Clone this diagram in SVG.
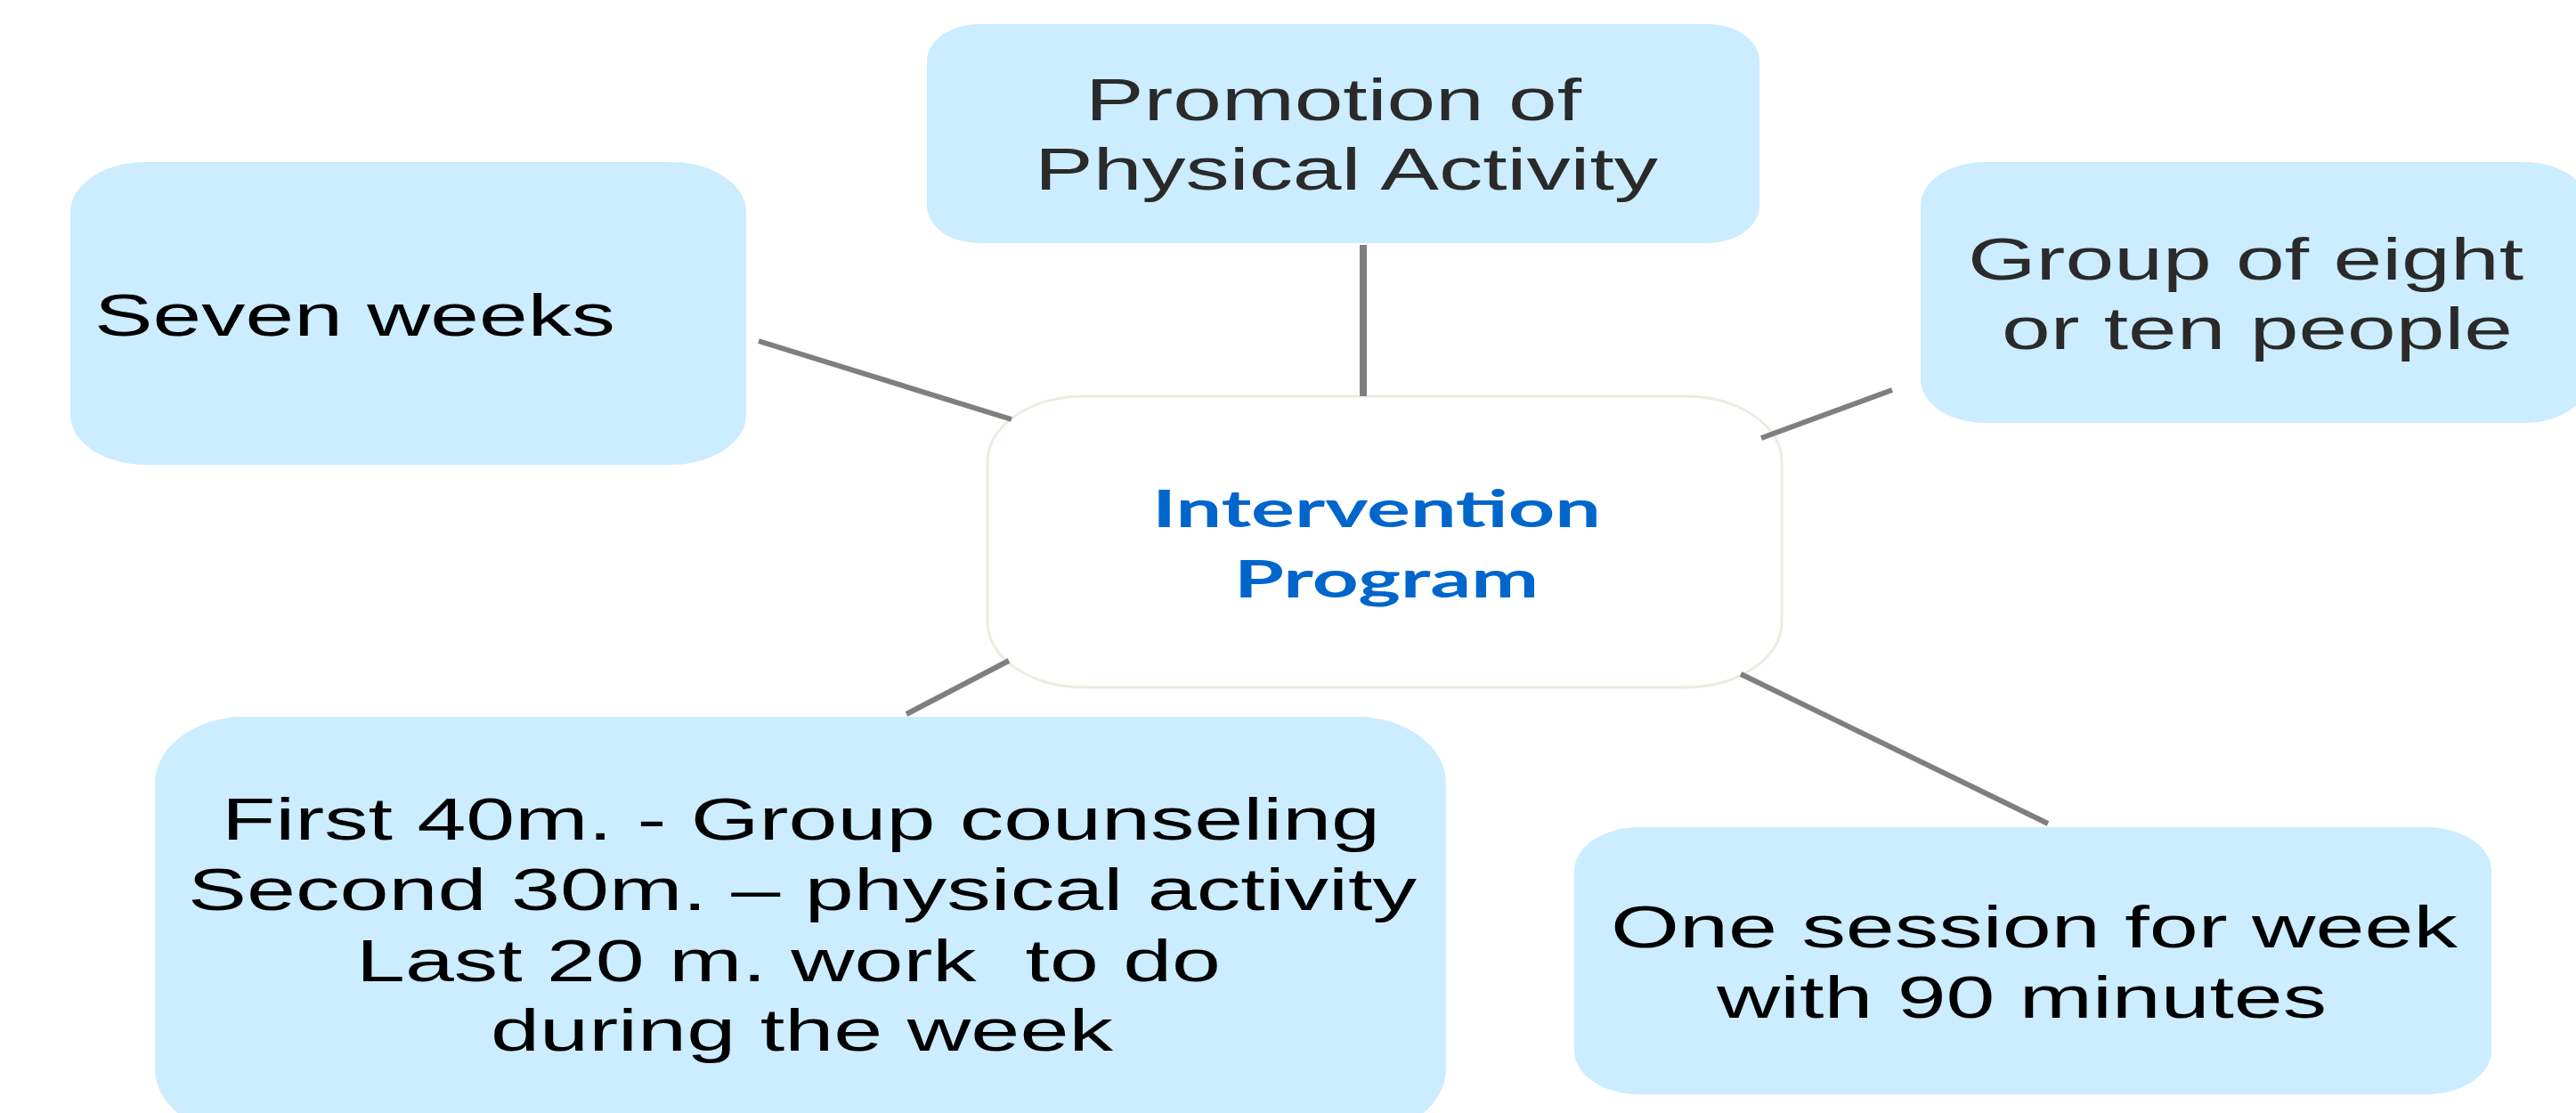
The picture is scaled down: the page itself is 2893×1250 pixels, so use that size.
<svg xmlns="http://www.w3.org/2000/svg" width="2893" height="1250" viewBox="0 0 2893 1250">
<style>
.box{fill:#CCECFF;stroke:none}
.center{fill:#FFFFFF;stroke:#EEECE1;stroke-width:3}
.t{font-family:"Liberation Sans",Arial,sans-serif;font-size:67px;fill:#000000}
.dk{fill:#2A2A2A}
.ct{font-family:"Lato","Open Sans",sans-serif;font-weight:bold;font-size:58px;fill:#0066CC}
.conn{stroke:#7F7F7F;stroke-width:6;fill:none}
</style>
<rect width="2893" height="1250" fill="#FFFFFF"/>
<g id="node-center">
<rect class="center" x="1109" y="445" width="892" height="327" rx="109" ry="73"/>
<text class="ct" x="1294" y="592" textLength="504" lengthAdjust="spacingAndGlyphs">Intervention</text>
<text class="ct" x="1386" y="671" textLength="342" lengthAdjust="spacingAndGlyphs">Program</text>
</g>
<g id="node-promotion">
<rect class="box" x="1041" y="27" width="935" height="246" rx="58" ry="42"/>
<text class="t dk" x="1219" y="135" textLength="557" lengthAdjust="spacingAndGlyphs">Promotion of</text>
<text class="t dk" x="1162" y="213" textLength="700" lengthAdjust="spacingAndGlyphs">Physical Activity</text>
</g>
<g id="node-group">
<rect class="box" x="2157" y="182" width="750" height="293" rx="72" ry="49"/>
<text class="t dk" x="2210" y="314" textLength="624" lengthAdjust="spacingAndGlyphs">Group of eight</text>
<text class="t dk" x="2248" y="392" textLength="574" lengthAdjust="spacingAndGlyphs">or ten people</text>
</g>
<g id="node-weeks">
<rect class="box" x="79" y="182" width="759" height="340" rx="85" ry="56"/>
<text class="t" x="106" y="377" textLength="585" lengthAdjust="spacingAndGlyphs">Seven weeks</text>
</g>
<g id="node-sessions">
<rect class="box" x="174" y="805" width="1450" height="470" rx="100" ry="75"/>
<text class="t" x="249" y="943" textLength="1301" lengthAdjust="spacingAndGlyphs">First 40m. - Group counseling</text>
<text class="t" x="211" y="1022" textLength="1380" lengthAdjust="spacingAndGlyphs">Second 30m. – physical activity</text>
<text class="t" x="400" y="1102" textLength="971" lengthAdjust="spacingAndGlyphs" xml:space="preserve">Last 20 m. work  to do</text>
<text class="t" x="551" y="1180" textLength="699" lengthAdjust="spacingAndGlyphs">during the week</text>
</g>
<g id="node-weekly">
<rect class="box" x="1768" y="929" width="1030" height="300" rx="73" ry="49"/>
<text class="t" x="1809" y="1064" textLength="951" lengthAdjust="spacingAndGlyphs">One session for week</text>
<text class="t" x="1928" y="1143" textLength="685" lengthAdjust="spacingAndGlyphs">with 90 minutes</text>
</g>
<g id="connectors">
<line class="conn" x1="1531" y1="275" x2="1531" y2="445" style="stroke-width:8"/>
<line class="conn" x1="852" y1="383" x2="1136" y2="471"/>
<line class="conn" x1="2125" y1="438" x2="1978" y2="492"/>
<line class="conn" x1="1018" y1="802" x2="1133" y2="742"/>
<line class="conn" x1="1955" y1="757" x2="2300" y2="925"/>
</g>
</svg>
